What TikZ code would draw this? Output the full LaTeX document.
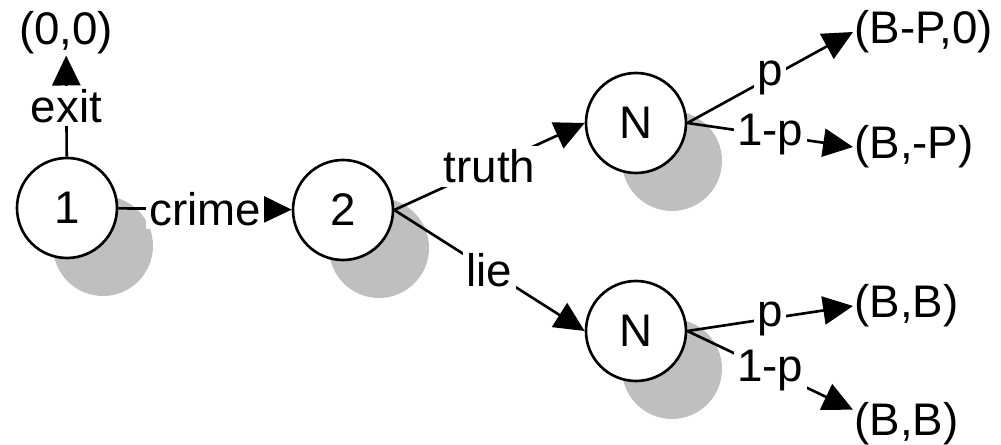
\documentclass[tikz,border=0pt]{standalone}
\usepackage{fontspec}
\setmainfont{Liberation Sans}
\usetikzlibrary{arrows.meta,shadows}

\begin{document}
\begin{tikzpicture}[scale=1.0,line width=1.5pt,
    every node/.style={font=\fontsize{26}{30}\selectfont},
    player/.style={circle,draw,fill=white,minimum size=2cm,inner sep=0pt,
      drop shadow={shadow xshift=0.72cm,shadow yshift=-0.76cm,fill=gray!50,opacity=1}},
    payoff/.style={anchor=west,inner sep=0pt},
    move/.style={-{Triangle[length=17pt,width=16pt]}},
    lbl/.style={fill=white,inner sep=2pt}]
    \useasboundingbox(0,0)rectangle(20.02,-8.9);
    % players and nature
    \node[player](p1)at(1.34,-4.16){1};
    \node[player](p2)at(6.86,-4.2){2};
    \node[player](nt)at(12.72,-2.46){N};
    \node[player](nb)at(12.72,-6.62){N};
    % payoffs
    \node[inner sep=0pt](o)at(1.32,-0.66){(0,0)};
    \node[payoff](bp0)at(17.06,-0.64){(B-P,0)};
    \node[payoff](bmp)at(17.06,-2.94){(B,-P)};
    \node[payoff](bb1)at(17.06,-6.12){(B,B)};
    \node[payoff](bb2)at(17.06,-8.48){(B,B)};
    % moves
    \draw[move](p1)--(o)node[lbl,midway]{exit};
    \draw[move](p1)--(p2)node[lbl,midway]{crime};
    \draw[move](p2.east)--(nt.west)node[lbl,midway]{truth};
    \draw[move](p2.east)--(nb.west)node[lbl,midway]{lie};
    \draw[move](nt.east)--(bp0.west)node[lbl,midway]{p};
    \draw[move](nt.east)--(bmp.west)node[lbl,midway]{1-p};
    \draw[move](nb.east)--(bb1.west)node[lbl,midway]{p};
    \draw[move](nb.east)--(bb2.165)node[lbl,midway]{1-p};
\end{tikzpicture}
\end{document}
